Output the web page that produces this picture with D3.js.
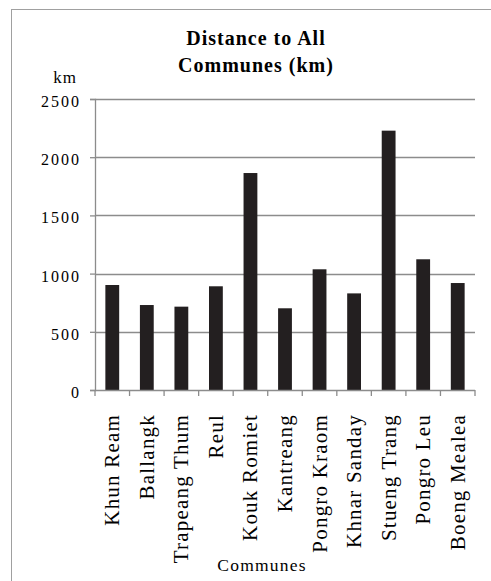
<!DOCTYPE html>
<html><head><meta charset="utf-8">
<script src="https://cdn.jsdelivr.net/npm/d3@7"></script>
<style>body{margin:0;background:#fff}svg{display:block}text{font-family:"Liberation Serif","Times New Roman",serif;fill:#000}</style>
</head><body>
<script>
const categories = ["Khun Ream","Ballangk","Trapeang Thum","Reul","Kouk Romiet","Kantreang","Pongro Kraom","Khnar Sanday","Stueng Trang","Pongro Leu","Boeng Mealea"];
const values = [902, 730, 716, 891, 1864, 702, 1037, 830, 2228, 1123, 919];
const yTicks = [0, 500, 1000, 1500, 2000, 2500];
const title = ["Distance to All", "Communes (km)"];

(function () {
const W = 491, H = 581;
const svg = d3.select("body").append("svg").attr("width", W).attr("height", H);
svg.append("rect").attr("x", 11.5).attr("y", 9.5).attr("width", 500).attr("height", 600)
  .attr("fill", "none").attr("stroke", "#a0a0a0").attr("stroke-width", 1);

const mL = 95, mR = 475, mT = 99, mB = 390;
const x = d3.scaleBand().domain(categories).range([mL, mR]).paddingInner(0.6).paddingOuter(0.3);
const y = d3.scaleLinear().domain([0, 2500]).range([mB, mT]);

// gridlines
svg.append("g").selectAll("line").data(yTicks.filter(d => d > 0)).join("line")
  .attr("x1", mL).attr("x2", mR).attr("y1", d => Math.round(y(d)) + 0.5).attr("y2", d => Math.round(y(d)) + 0.5)
  .attr("stroke", "#8c8c8c").attr("stroke-width", 1.3);

// y axis
const ya = svg.append("g").attr("transform", `translate(${mL},0)`)
  .call(d3.axisLeft(y).tickValues(yTicks).tickSize(5).tickPadding(9).tickFormat(d3.format("d")));
ya.selectAll("path,line").attr("stroke", "#8c8c8c").attr("stroke-width", 1.3);
ya.selectAll("text").style("font-size", "16px").style("font-family", "Liberation Serif")
  .style("letter-spacing", "2px").attr("dy", "0.47em");

// bars
svg.append("g").selectAll("rect").data(values).join("rect")
  .attr("x", (d, i) => x(categories[i])).attr("width", x.bandwidth())
  .attr("y", d => y(d)).attr("height", d => y(0) - y(d))
  .attr("fill", "#231f20");

// x axis
const xb = d3.scaleLinear().domain([0, categories.length]).range([mL, mR]);
const xa = svg.append("g").attr("transform", `translate(0,${mB})`);
xa.append("line").attr("x1", mL).attr("x2", mR).attr("y1", 0.5).attr("y2", 0.5).attr("stroke", "#8c8c8c").attr("stroke-width", 1.3);
xa.selectAll("line.t").data(d3.range(categories.length + 1)).join("line").attr("class", "t")
  .attr("x1", d => xb(d)).attr("x2", d => xb(d)).attr("y1", 0).attr("y2", 6)
  .attr("stroke", "#8c8c8c").attr("stroke-width", 1.3);
xa.selectAll("text.lbl").data(categories).join("text").attr("class", "lbl")
  .attr("transform", d => `translate(${x(d) + x.bandwidth() / 2 + 7},24) rotate(-90)`)
  .attr("text-anchor", "end").style("font-size", "21px").style("letter-spacing", "1.2px").text(d => d);

// titles
svg.append("g").selectAll("text").data(title).join("text")
  .attr("x", 256).attr("y", (d, i) => 45 + i * 27).attr("text-anchor", "middle")
  .style("font-size", "20px").style("font-weight", "bold").style("letter-spacing", "1px").text(d => d);
svg.append("text").attr("x", 65).attr("y", 83).attr("text-anchor", "middle").style("font-size", "17px").style("letter-spacing", "1px").text("km");
svg.append("text").attr("x", 262).attr("y", 571).attr("text-anchor", "middle").style("font-size", "17.5px").style("letter-spacing", "1.2px").text("Communes");
})();
</script>
</body></html>
